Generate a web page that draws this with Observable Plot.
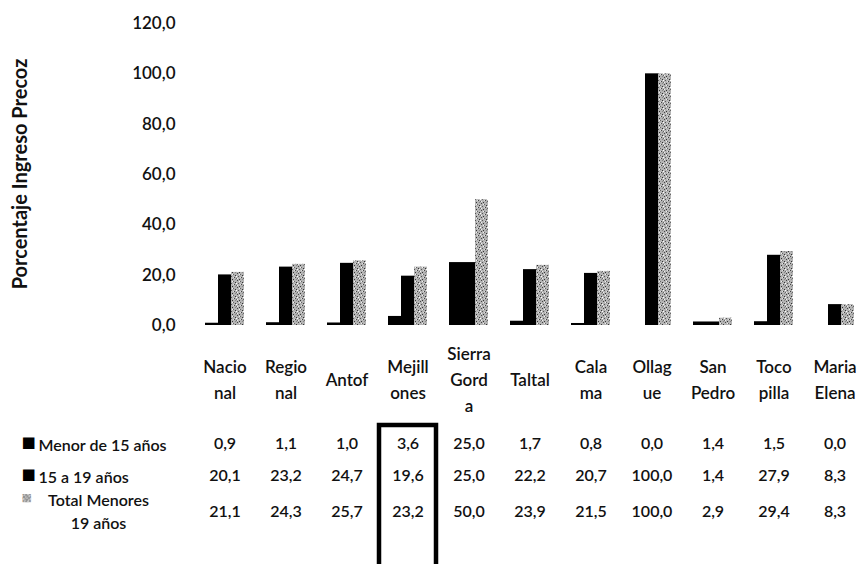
<!DOCTYPE html>
<html>
<head>
<meta charset="utf-8">
<script src="https://cdn.jsdelivr.net/npm/d3@7"></script>
<script src="https://cdn.jsdelivr.net/npm/@observablehq/plot@0.6"></script>
<style>
  html, body { margin: 0; padding: 0; background: #fff; }
  #chart { position: relative; width: 863px; height: 564px; }
</style>
</head>
<body>
<div id="chart"></div>
<script>
const categories = ["Nacional","Regional","Antof","Mejillones","Sierra Gorda","Taltal","Calama","Ollague","San Pedro","Tocopilla","Maria Elena"];
const categoryLabels = ["Nacio\nnal","Regio\nnal","Antof","Mejill\nones","Sierra\nGord\na","Taltal","Cala\nma","Ollag\nue","San\nPedro","Toco\npilla","Maria\nElena"];
const series = ["Menor de 15 años","15 a 19 años","Total Menores 19 años"];
const seriesLabels = ["Menor de 15 años","15 a 19 años","Total Menores\n19 años"];
const menor15 = [0.9,1.1,1.0,3.6,25.0,1.7,0.8,0.0,1.4,1.5,0.0];
const de15a19 = [20.1,23.2,24.7,19.6,25.0,22.2,20.7,100.0,1.4,27.9,8.3];
const total19 = [21.1,24.3,25.7,23.2,50.0,23.9,21.5,100.0,2.9,29.4,8.3];
const yTicks = [0,20,40,60,80,100,120];
const highlighted = "Mejillones";
const yTitle = "Porcentaje Ingreso Precoz";

const seriesValues = [menor15, de15a19, total19];
const rows = categories.flatMap((c, i) => series.map((s, j) => ({category: c, series: s, value: seriesValues[j][i]})));
const fmt = d => d.toFixed(1).replace(".", ",");
const font = "Lato, 'Open Sans', sans-serif";

const marginLeft = 198, marginTop = 23, marginBottom = 239;
const rowDy = [118, 150, 186];

const legendMarks = [];
series.forEach((s, j) => {
  legendMarks.push(
    Plot.text([seriesLabels[j]], {
      fx: () => categories[0], text: d => d, frameAnchor: "bottom-left",
      textAnchor: j === 2 ? "middle" : "start",
      dx: j === 2 ? -106 : -166, dy: rowDy[j] - (j === 2 ? 1 : 0),
      lineAnchor: "middle", lineHeight: 1.4, fontSize: 16, fontWeight: 600, fill: "#111"
    }),
    Plot.text(["\u25A0"], {
      fx: () => categories[0], text: d => d, frameAnchor: "bottom-left",
      textAnchor: "start", dx: -183, dy: j === 2 ? rowDy[j] - 14 : rowDy[j] - 1,
      lineAnchor: "middle", fontSize: j === 2 ? 11 : 15, fontFamily: "DejaVu Sans",
      fill: j === 2 ? "url(#stipple)" : "#000"
    })
  );
});

const plot = Plot.plot({
  width: 863, height: 564,
  marginTop, marginBottom, marginLeft, marginRight: 2,
  style: {fontFamily: font, fontSize: "16px", color: "#111", background: "#fff"},
  fx: {domain: categories, paddingInner: 0.336, paddingOuter: 0.1, axis: null, label: null},
  x: {domain: series, padding: 0, axis: null},
  y: {domain: [0, 120], ticks: yTicks, tickFormat: fmt, tickSize: 0, tickPadding: 29, label: null, fontSize: 17},
  color: {type: "ordinal", domain: series, range: ["#000", "#000", "url(#stipple)"]},
  marks: [
    Plot.axisY({ticks: yTicks, tickFormat: fmt, tickSize: 0, tickPadding: 29, label: null, fontSize: 17, fontWeight: 600}),
    Plot.barY(rows, {fx: "category", x: "series", y: "value", fill: "series"}),
    Plot.text(categories, {
      fx: d => d, text: (d, i) => categoryLabels[i], frameAnchor: "bottom",
      dy: 52, lineAnchor: "middle", lineHeight: 1.55, fontSize: 17, fontWeight: 600, fill: "#111"
    }),
    ...series.map((s, j) => Plot.text(rows.filter(r => r.series === s), {
      fx: "category", text: d => fmt(d.value), frameAnchor: "bottom",
      dy: rowDy[j], lineAnchor: "middle", fontSize: 16, fontWeight: 600, fill: "#111"
    })),
    ...legendMarks
  ]
});

const svg = d3.select(plot);
svg.insert("defs", ":first-child").html(`
  <pattern id="stipple" patternUnits="userSpaceOnUse" width="7" height="7">
    <rect width="7" height="7" fill="#b4b4b4"/>
    <rect x="0" y="0" width="1" height="1" fill="#444"/>
    <rect x="3" y="1" width="1" height="1" fill="#666"/>
    <rect x="5" y="2" width="1" height="1" fill="#333"/>
    <rect x="1" y="3" width="1" height="1" fill="#555"/>
    <rect x="4" y="4" width="1" height="1" fill="#444"/>
    <rect x="6" y="5" width="1" height="1" fill="#666"/>
    <rect x="2" y="6" width="1" height="1" fill="#333"/>
    <rect x="5" y="6" width="1" height="1" fill="#888"/>
    <rect x="2" y="1" width="1" height="1" fill="#f2f2f2"/>
    <rect x="6" y="3" width="1" height="1" fill="#fff"/>
    <rect x="0" y="5" width="1" height="1" fill="#eee"/>
    <rect x="3" y="4" width="1" height="1" fill="#ddd"/>
  </pattern>`);

// Y axis title
svg.append("text")
  .attr("transform", `translate(22,${(marginTop + (564 - marginBottom)) / 2}) rotate(-90)`)
  .attr("text-anchor", "middle").attr("dominant-baseline", "middle")
  .attr("font-family", font).attr("font-size", 20).attr("font-weight", 700).attr("fill", "#111")
  .text(yTitle);

// Highlight box around one column of the table
const fx = plot.scale("fx");
const center = fx.apply(highlighted) + fx.bandwidth / 2;
const boxW = fx.step - 4;
svg.append("rect")
  .attr("x", center - boxW / 2).attr("y", 425)
  .attr("width", boxW).attr("height", 150)
  .attr("fill", "none").attr("stroke", "#000").attr("stroke-width", 4.5);

document.getElementById("chart").appendChild(plot);
</script>
</body>
</html>
